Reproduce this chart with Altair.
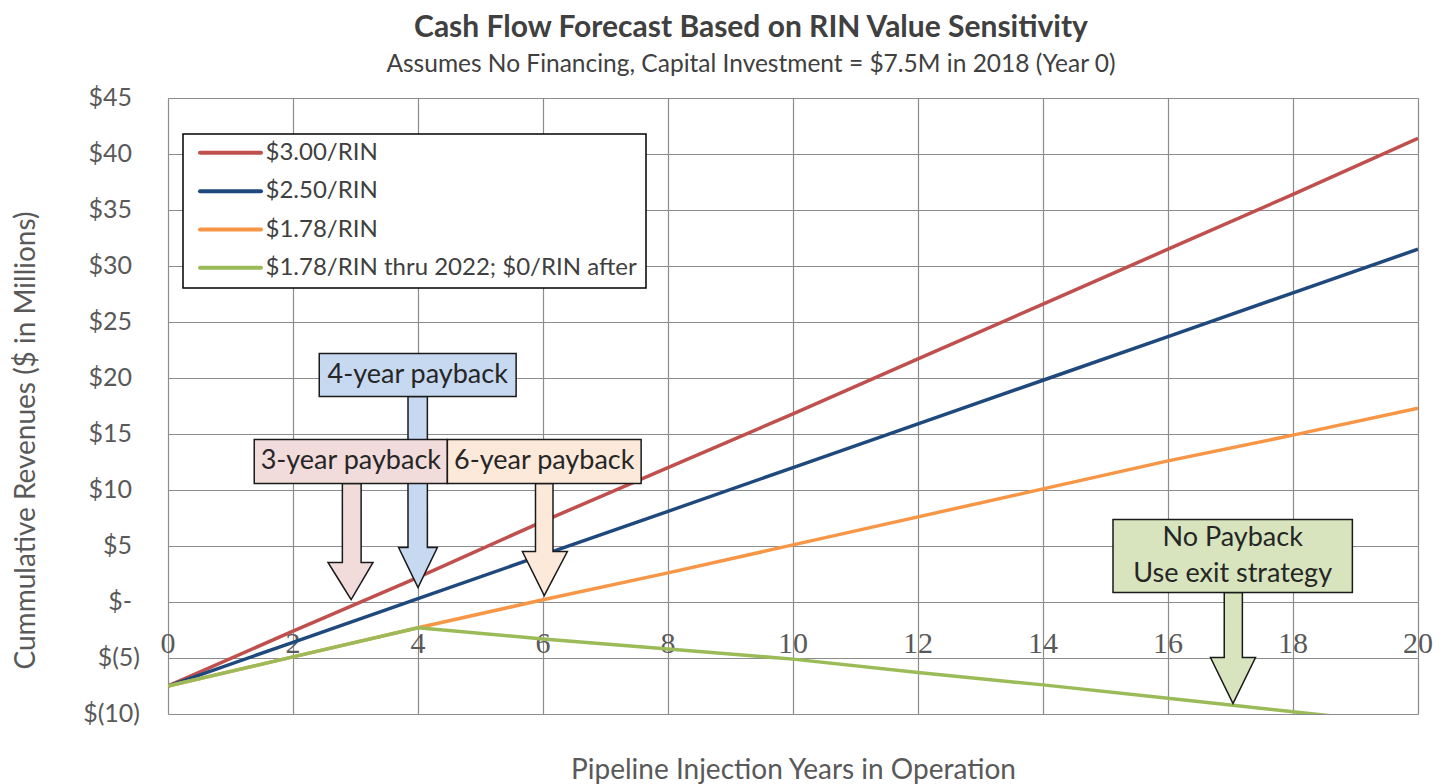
import altair as alt
import pandas as pd

# ---------------- data ----------------
years = [0, 2, 4, 6, 8, 10, 12, 14, 16, 18, 20]
rin_300 = [-7.5, -2.6, 2.2, 7.2, 12.0, 16.8, 21.7, 26.6, 31.5, 36.4, 41.4]
rin_250 = [-7.5, -3.6, 0.3, 4.2, 8.1, 12.0, 15.9, 19.8, 23.7, 27.6, 31.5]
rin_178 = [-7.5, -4.9, -2.3, 0.2, 2.6, 5.1, 7.6, 10.1, 12.6, 14.9, 17.3]
rin_178_2022 = [-7.5, -4.9, -2.3, -3.3, -4.2, -5.1, -6.3, -7.4, -8.6, -9.8, -11.0]

series_names = ["$3.00/RIN", "$2.50/RIN", "$1.78/RIN", "$1.78/RIN thru 2022; $0/RIN after"]
series_colors = ["#C0504D", "#1F497D", "#F79646", "#9BBB59"]

x_tick_values = [0, 2, 4, 6, 8, 10, 12, 14, 16, 18, 20]
y_tick_values = [-10, -5, 0, 5, 10, 15, 20, 25, 30, 35, 40, 45]
y_tick_labels = ["$(10)", "$(5)", "$-", "$5", "$10", "$15", "$20", "$25", "$30", "$35", "$40", "$45"]

# callouts (data coordinates: years / $M)
callout_labels = ["4-year payback", "3-year payback", "6-year payback", "No Payback\nUse exit strategy"]
callout_fills = ["#C6D9F1", "#F2DCDB", "#FDE9D9", "#D7E4BD"]
box_left = [2.42, 1.38, 4.47, 15.12]
box_right = [5.57, 4.47, 7.57, 18.95]
box_top = [22.19, 14.51, 14.51, 7.37]
box_bottom = [18.35, 10.58, 10.58, 0.85]
shaft_left = [3.84, 2.79, 5.88, 16.90]
shaft_right = [4.15, 3.09, 6.16, 17.19]
head_top = [4.87, 3.53, 4.51, -4.96]
head_left = [3.69, 2.56, 5.67, 16.68]
head_right = [4.31, 3.28, 6.39, 17.40]
tip_x = [4.0, 2.93, 6.02, 17.04]
tip_y = [1.29, 0.22, 0.58, -9.06]

# ---------------- styling ----------------
FONT = "Lato"
PLOT_W, PLOT_H = 1250, 616
GRID = "#8c8c8c"
TXT = "#595959"

xs = alt.Scale(domain=[0, 20], nice=False, zero=False)
ys = alt.Scale(domain=[-10, 45], nice=False, zero=False)
px_per_unit = PLOT_H / 55.0

x_axis = alt.Axis(values=x_tick_values, grid=True, labels=False, ticks=False, domain=False,
                  title="Pipeline Injection Years in Operation", titleFont=FONT, titleFontSize=28,
                  titleFontWeight="normal", titleColor=TXT, titlePadding=42,
                  gridColor=GRID, gridWidth=1.2)

y_axis = alt.Axis(values=y_tick_values, grid=True, ticks=False, domain=False, labels=False,
                  title="Cummulative Revenues ($ in Millions)", titleFont=FONT, titleFontSize=28,
                  titleFontWeight="normal", titleColor=TXT, titlePadding=128, titleY=342,
                  gridColor=GRID, gridWidth=1.2)


def X(field):
    return alt.X(field, scale=xs, axis=x_axis)


def Y(field):
    return alt.Y(field, scale=ys, axis=y_axis)


# x tick labels (drawn under the lines, as in the reference)
tick_df = pd.DataFrame({"year": x_tick_values, "label": [str(v) for v in x_tick_values]})
zero_px = PLOT_H * 45 / 55
tick_layer = alt.Chart(tick_df).mark_text(font="Liberation Serif", fontSize=30, color=TXT,
                                          baseline="middle", align="center").encode(
    x=X("year:Q"),
    y=alt.value(zero_px + 42),
    text="label:N",
)

# y tick labels in accounting style: ")" hangs to the right of positive numbers
ylab_df = pd.DataFrame({"value": y_tick_values, "label": y_tick_labels})
ylab_df["xpx"] = [-28 if v < 0 else -36 for v in y_tick_values]
ylab_layer = alt.Chart(ylab_df).mark_text(font=FONT, fontSize=25, color=TXT, align="right",
                                          baseline="middle").encode(
    x=alt.X("xpx:Q", scale=None),
    y=Y("value:Q"),
    text="label:N",
)

line_layers = []
for name, vals, col in zip(series_names, [rin_300, rin_250, rin_178, rin_178_2022], series_colors):
    df = pd.DataFrame({"year": years, "value": vals, "series": name})
    line_layers.append(
        alt.Chart(df).mark_line(color=col, strokeWidth=3.5, clip=True).encode(
            x=X("year:Q"), y=Y("value:Q"),
        )
    )

# ---------------- legend (manual, pixel layout) ----------------
LEG_ROW0, LEG_STEP = 54.8, 38.35
legend_df = pd.DataFrame({
    "name": series_names,
    "color": series_colors,
    "py": [LEG_ROW0 + i * LEG_STEP for i in range(len(series_names))],
})
legend_box = alt.Chart(pd.DataFrame({"a": [0]})).mark_rect(
    fill="white", stroke="#000000", strokeWidth=1.5).encode(
    x=alt.value(15), x2=alt.value(478), y=alt.value(36), y2=alt.value(190))
legend_sym = alt.Chart(legend_df).mark_rule(strokeWidth=4, strokeCap="round").encode(
    x=alt.value(32), x2=alt.value(93),
    y=alt.Y("py:Q", scale=None),
    color=alt.Color("color:N", scale=None, legend=None),
)
legend_txt = alt.Chart(legend_df).mark_text(align="left", baseline="middle", font=FONT,
                                            fontSize=24, color="#404040").encode(
    x=alt.value(97.5),
    y=alt.Y("py:Q", scale=None),
    text="name:N",
)

# ---------------- callouts ----------------
EPS = 1e-4
arrow_rows = []
for k in range(len(callout_labels)):
    hT, tx, ty = head_top[k], tip_x[k], tip_y[k]
    hl, hr = head_left[k], head_right[k]
    sl, sr = shaft_left[k], shaft_right[k]
    sT = box_bottom[k]

    def slant(x):
        if x <= tx:
            return hT + (ty - hT) * (x - hl) / (tx - hl)
        return hT + (ty - hT) * (hr - x) / (hr - tx)

    pts = [
        (hl, hT, hT),
        (sl - EPS, hT, slant(sl - EPS)),
        (sl, sT, slant(sl)),
        (tx, sT, ty),
        (sr, sT, slant(sr)),
        (sr + EPS, hT, slant(sr + EPS)),
        (hr, hT, hT),
    ]
    for x, top, bot in pts:
        arrow_rows.append({"id": k, "x": x, "top": top, "bot": bot, "fill": callout_fills[k]})
arrow_df = pd.DataFrame(arrow_rows)

arrow_layer = alt.Chart(arrow_df).mark_area(stroke="#1a1a1a", strokeWidth=1.5, interpolate="linear",
                                            opacity=1).encode(
    x=X("x:Q"),
    y=Y("top:Q"),
    y2="bot:Q",
    detail="id:N",
    fill=alt.Fill("fill:N", scale=None, legend=None),
)

box_df = pd.DataFrame({
    "label": callout_labels, "fill": callout_fills,
    "x0": box_left, "x1": box_right, "y0": box_bottom, "y1": box_top,
})
box_layer = alt.Chart(box_df).mark_rect(stroke="#1a1a1a", strokeWidth=1.5).encode(
    x=X("x0:Q"), x2="x1:Q",
    y=Y("y0:Q"), y2="y1:Q",
    fill=alt.Fill("fill:N", scale=None, legend=None),
)

LINE_H = 36 / px_per_unit
text_rows = []
for k, lab in enumerate(callout_labels):
    parts = lab.split("\n")
    xc = (box_left[k] + box_right[k]) / 2
    yc = (box_top[k] + box_bottom[k]) / 2
    n = len(parts)
    for j, p in enumerate(parts):
        text_rows.append({"t": p, "xc": xc, "yc": yc + ((n - 1) / 2 - j) * LINE_H})
text_df = pd.DataFrame(text_rows)
box_text = alt.Chart(text_df).mark_text(font=FONT, fontSize=27, color="#262626", align="center",
                                        baseline="middle").encode(
    x=X("xc:Q"), y=Y("yc:Q"), text="t:N",
)

chart = alt.layer(
    tick_layer, ylab_layer, *line_layers, legend_box, legend_sym, legend_txt,
    arrow_layer, box_layer, box_text,
).properties(
    width=PLOT_W, height=PLOT_H,
    padding={"left": 160, "top": 90, "right": 25, "bottom": 72},
    autosize=alt.AutoSizeParams(type="none"),
    title=alt.TitleParams(
        text="Cash Flow Forecast Based on RIN Value Sensitivity",
        subtitle="Assumes No Financing, Capital Investment = $7.5M in 2018 (Year 0)",
        font=FONT, fontSize=30, fontWeight="bold", color="#404040",
        subtitleFont=FONT, subtitleFontSize=24.5, subtitleColor="#404040", subtitlePadding=10,
        anchor="middle", frame="group", dx=-42, offset=10,
    ),
).configure_view(stroke="#8a8a8a", strokeWidth=1.2).configure(background="white")

chart.save("out.html", embed_options={"renderer": "svg", "actions": False})
